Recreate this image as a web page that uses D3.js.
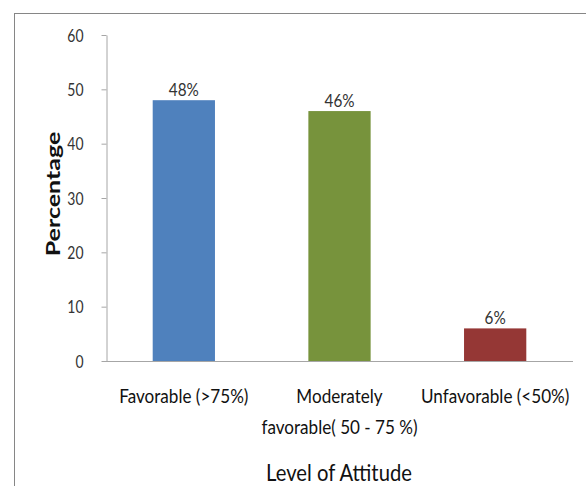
<!DOCTYPE html>
<html>
<head>
<meta charset="utf-8">
<script src="https://cdn.jsdelivr.net/npm/d3@7/dist/d3.min.js"></script>
<style>
  html, body { margin: 0; padding: 0; background: #fff; }
  svg { display: block; }
  text { font-family: Lato, "Open Sans", sans-serif; }
</style>
</head>
<body>
<svg id="chart" width="586" height="486"></svg>
<script>
// Attitude levels and their share of respondents
const categories = [["Favorable (>75%)"], ["Moderately", "favorable( 50 - 75 %)"], ["Unfavorable (<50%)"]];
const values = [48, 46, 6];
const valueLabels = ["48%", "46%", "6%"];
const barColors = ["#4F81BD", "#77933C", "#953735"];
const yTicks = [0, 10, 20, 30, 40, 50, 60];
const yTitle = "Percentage";
const xTitle = "Level of Attitude";

const svg = d3.select("#chart");

// narrow, tall lettering: draw each label at (x, y) squeezed horizontally
const place = (x, y, sx) => `translate(${x},${y}) scale(${sx},1)`;

// outer frame (open on the right and bottom edges)
svg.append("rect")
  .attr("x", 14.5).attr("y", 13.5)
  .attr("width", 620).attr("height", 520)
  .attr("fill", "none").attr("stroke", "#868686").attr("stroke-width", 1);

const plot = { left: 106, right: 573, top: 35, bottom: 361 };

const x = d3.scaleBand()
  .domain(d3.range(values.length))
  .range([plot.left, plot.right])
  .paddingInner(0.6).paddingOuter(0.3);

const y = d3.scaleLinear().domain([0, 60]).range([plot.bottom, plot.top]);

// y axis
const yAxis = svg.append("g")
  .attr("transform", `translate(${plot.left + 0.5},0)`)
  .call(d3.axisLeft(y).tickValues(yTicks).tickSize(5).tickSizeOuter(0));
yAxis.select(".domain").attr("stroke", "#A6A6A6");
yAxis.selectAll(".tick line").attr("stroke", "#A6A6A6");
yAxis.selectAll(".tick text")
  .attr("x", null).attr("dy", null)
  .attr("transform", place(-23, 6, 0.82))
  .attr("fill", "#333")
  .style("font-size", "17px");

// bars
svg.selectAll("rect.bar")
  .data(values)
  .join("rect")
  .attr("class", "bar")
  .attr("x", (d, i) => x(i))
  .attr("width", x.bandwidth())
  .attr("y", d => y(d))
  .attr("height", d => y(0) - y(d))
  .attr("fill", (d, i) => barColors[i]);

// x axis baseline
svg.append("line")
  .attr("x1", plot.left).attr("x2", plot.right)
  .attr("y1", plot.bottom + 0.5).attr("y2", plot.bottom + 0.5)
  .attr("stroke", "#A6A6A6");

// value labels
svg.selectAll("text.val")
  .data(values)
  .join("text")
  .attr("class", "val")
  .attr("transform", (d, i) => place(x(i) + x.bandwidth() / 2, y(d) - 4, 0.85))
  .attr("text-anchor", "middle")
  .attr("fill", "#333")
  .style("font-size", "18px")
  .text((d, i) => valueLabels[i]);

// category labels
svg.selectAll("g.cat")
  .data(categories)
  .join("g")
  .attr("class", "cat")
  .each(function (lines, i) {
    d3.select(this).selectAll("text")
      .data(lines)
      .join("text")
      .attr("transform", (t, j) => place(x(i) + x.bandwidth() / 2, 403 + j * 31, 0.9))
      .attr("text-anchor", "middle")
      .attr("fill", "#111")
      .style("font-size", "19px")
      .text(t => t);
  });

// axis titles
svg.append("text")
  .attr("transform", place(339, 481, 0.88))
  .attr("text-anchor", "middle")
  .attr("fill", "#111")
  .style("font-size", "23px")
  .text(xTitle);

svg.append("text")
  .attr("transform", "translate(60,194) rotate(-90) scale(1,0.75)")
  .attr("text-anchor", "middle")
  .attr("fill", "#111")
  .style("font-size", "25px")
  .style("font-weight", "bold")
  .text(yTitle);
</script>
</body>
</html>
